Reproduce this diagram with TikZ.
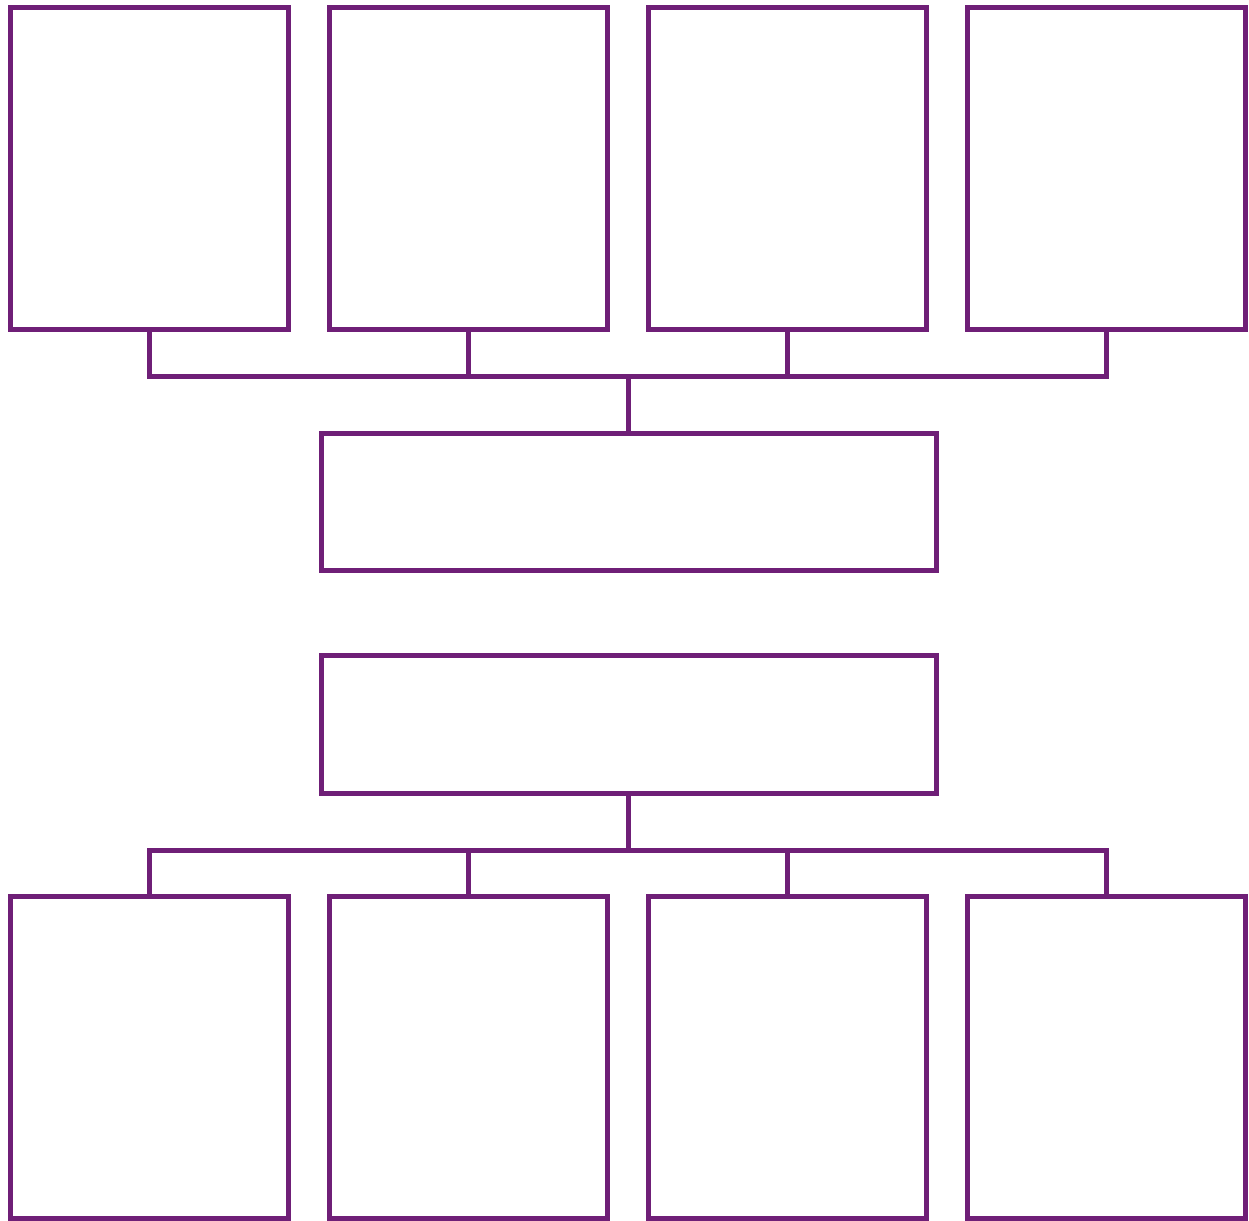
\documentclass[tikz,border=0pt]{standalone}
\usepackage{tikz}
\usetikzlibrary{positioning}
\definecolor{orgpurple}{RGB}{111,31,119}

\begin{document}
\begin{tikzpicture}[x=0.5pt,y=-0.5pt,line width=2.5pt,
  tall/.style={draw=orgpurple,rectangle,inner sep=0pt,outer sep=0pt,
               minimum width=139pt,minimum height=161pt},
  wide/.style={draw=orgpurple,rectangle,inner sep=0pt,outer sep=0pt,
               minimum width=307.5pt,minimum height=68.75pt},
  link/.style={draw=orgpurple}]
  \useasboundingbox (0,0) rectangle (1249,1221);
  % upper row
  \node[tall] (up1) at (149,168) {};
  \node[tall] (up2) at (468.5,168) {};
  \node[tall] (up3) at (787.5,168) {};
  \node[tall] (up4) at (1106.5,168) {};
  % the two middle boxes
  \node[wide] (mid1) at (628.5,502) {};
  \node[wide] (mid2) at (628.5,724.5) {};
  % lower row
  \node[tall] (low1) at (149,1057.5) {};
  \node[tall] (low2) at (468.5,1057.5) {};
  \node[tall] (low3) at (787.5,1057.5) {};
  \node[tall] (low4) at (1106.5,1057.5) {};
  \coordinate (busup) at (628.5,376);
  \coordinate (buslow) at (628.5,850);
  % upper bus
  \draw[link] (up1.south) |- (busup) -| (up4.south);
  \draw[link] (up2.south) -- (up2.south |- busup);
  \draw[link] (up3.south) -- (up3.south |- busup);
  \draw[link] (busup) -- (mid1.north);
  % lower bus
  \draw[link] (low1.north) |- (buslow) -| (low4.north);
  \draw[link] (low2.north) -- (low2.north |- buslow);
  \draw[link] (low3.north) -- (low3.north |- buslow);
  \draw[link] (buslow) -- (mid2.south);
\end{tikzpicture}
\end{document}
